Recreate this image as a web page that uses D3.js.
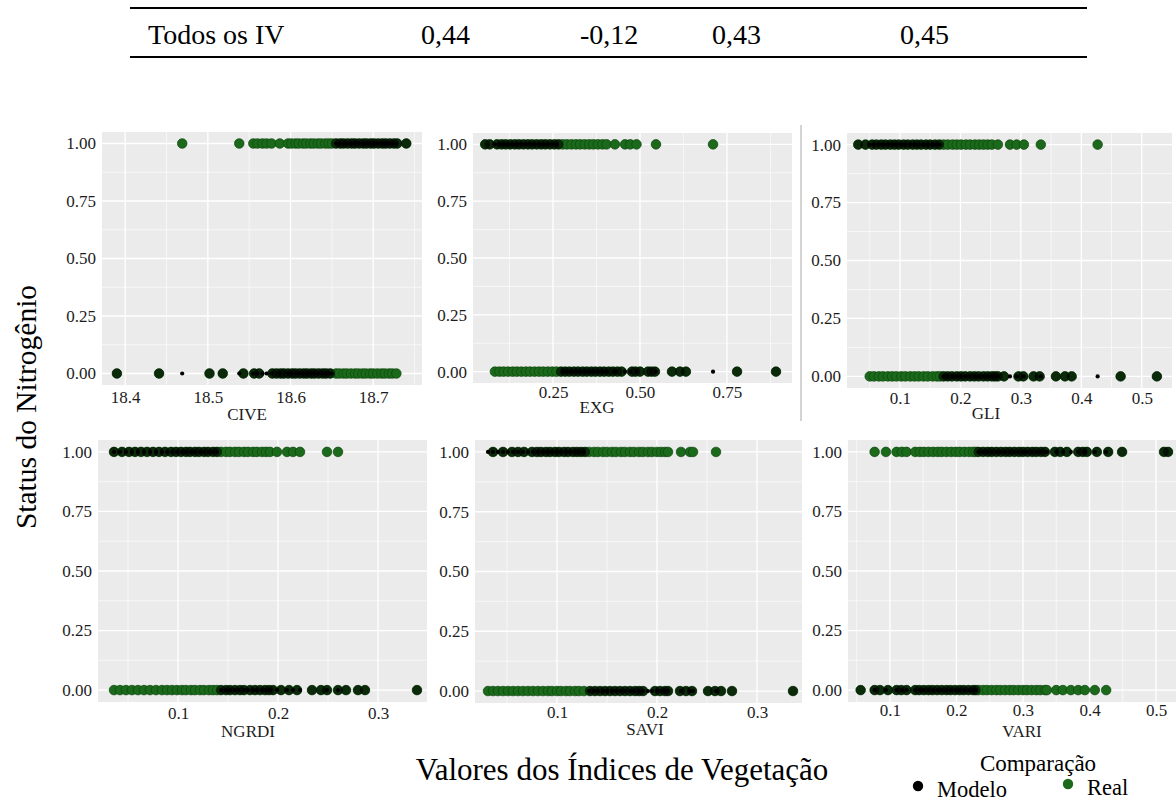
<!DOCTYPE html>
<html>
<head>
<meta charset="utf-8">
<script src="https://cdn.jsdelivr.net/npm/d3@7"></script>
<style>
  body { margin: 0; background: #ffffff; }
  svg text { font-family: "Liberation Serif", "Times New Roman", serif; }
</style>
</head>
<body>
<svg id="fig" width="1176" height="801"></svg>
<script>
// ---- Table row shown above the figure ----
const tableRow = ["Todos os IV", "0,44", "-0,12", "0,43", "0,45"];

// ---- Facet names, y ticks, x ticks ----
const indexNames = ["CIVE", "EXG", "GLI", "NGRDI", "SAVI", "VARI"];
const statusTicks = [0, 0.25, 0.5, 0.75, 1];
const civeTicks = [18.4, 18.5, 18.6, 18.7];
const exgTicks = [0.25, 0.5, 0.75];
const gliTicks = [0.1, 0.2, 0.3, 0.4, 0.5];
const ngrdiTicks = [0.1, 0.2, 0.3];
const saviTicks = [0.1, 0.2, 0.3];
const variTicks = [0.1, 0.2, 0.3, 0.4, 0.5];

// ---- Observed nitrogen status (1 / 0) by index value ----
const civeReal1 = [18.469, 18.538, 18.555, 18.560, 18.566, 18.571, 18.577, 18.587,
  18.597, 18.601, 18.606, 18.610, 18.615, 18.619, 18.624, 18.628, 18.633, 18.637, 18.642, 18.646, 18.650,
  18.655, 18.660, 18.664, 18.669, 18.674, 18.678, 18.683, 18.688, 18.692, 18.697, 18.701, 18.706, 18.711,
  18.715, 18.720, 18.725, 18.729, 18.740];
const civeReal0 = [18.390, 18.441, 18.502, 18.518, 18.543, 18.556, 18.562,
  18.578, 18.583, 18.588, 18.592, 18.597, 18.602, 18.606, 18.611, 18.616, 18.620, 18.625, 18.629, 18.634,
  18.639, 18.643, 18.648, 18.655, 18.659, 18.664, 18.668, 18.673, 18.678, 18.682, 18.687, 18.691, 18.696,
  18.700, 18.705, 18.710, 18.714, 18.719, 18.723, 18.728];

const exgReal1 = [0.055, 0.068, 0.089, 0.102, 0.114, 0.127, 0.140, 0.152, 0.165, 0.178, 0.190, 0.203, 0.216,
  0.228, 0.241, 0.254, 0.266, 0.278, 0.290, 0.303, 0.316, 0.328, 0.341, 0.354, 0.366, 0.379, 0.392, 0.404,
  0.428, 0.457, 0.472, 0.490, 0.546, 0.710];
const exgReal0 = [0.083, 0.096, 0.108, 0.121, 0.134, 0.146, 0.159, 0.172, 0.184, 0.197, 0.210, 0.222, 0.235,
  0.248, 0.260, 0.273, 0.285, 0.297, 0.310, 0.322, 0.335, 0.347, 0.360, 0.372, 0.385, 0.397, 0.410, 0.422,
  0.435, 0.447, 0.477, 0.487, 0.500, 0.523, 0.533, 0.543, 0.592, 0.615, 0.632, 0.779, 0.891];

const gliReal1 = [0.031, 0.043, 0.054, 0.061, 0.069, 0.076, 0.084, 0.091, 0.098, 0.106, 0.113, 0.121, 0.128,
  0.135, 0.143, 0.150, 0.158, 0.165, 0.172, 0.179, 0.187, 0.194, 0.201, 0.209, 0.216, 0.224, 0.231, 0.238,
  0.245, 0.252, 0.262, 0.282, 0.293, 0.305, 0.333, 0.427];
const gliReal0 = [0.050, 0.057, 0.065, 0.072, 0.080, 0.087, 0.094, 0.102, 0.109, 0.117, 0.124, 0.131, 0.139,
  0.146, 0.154, 0.161, 0.166, 0.172, 0.179, 0.186, 0.194, 0.201, 0.208, 0.216, 0.223, 0.230, 0.238, 0.245,
  0.252, 0.257, 0.262, 0.272, 0.296, 0.304, 0.321, 0.331, 0.358, 0.373, 0.384, 0.465, 0.525];

const ngrdiReal1 = [0.036, 0.044, 0.051, 0.057, 0.063, 0.069, 0.075, 0.081, 0.087, 0.093, 0.098, 0.103, 0.108,
  0.112, 0.117, 0.121, 0.126, 0.130, 0.135, 0.139, 0.143, 0.148, 0.152, 0.157, 0.161, 0.166, 0.170, 0.175,
  0.179, 0.184, 0.188, 0.192, 0.199, 0.209, 0.215, 0.222, 0.249, 0.260];
const ngrdiReal0 = [0.036, 0.042, 0.048, 0.054, 0.060, 0.066, 0.072, 0.078, 0.084, 0.089, 0.094, 0.099, 0.104,
  0.108, 0.113, 0.117, 0.122, 0.126, 0.131, 0.135, 0.139, 0.143, 0.148, 0.152, 0.157, 0.162, 0.166, 0.172,
  0.177, 0.182, 0.187, 0.191, 0.195, 0.203, 0.211, 0.219, 0.234, 0.243, 0.249, 0.260, 0.268, 0.280, 0.287,
  0.339];

const saviReal1 = [0.036, 0.046, 0.055, 0.061, 0.067, 0.075, 0.080, 0.084, 0.089, 0.093, 0.098, 0.102, 0.107,
  0.111, 0.116, 0.120, 0.124, 0.128, 0.132, 0.137, 0.141, 0.146, 0.150, 0.155, 0.159, 0.164, 0.168, 0.173,
  0.177, 0.182, 0.186, 0.191, 0.195, 0.200, 0.204, 0.208, 0.211, 0.224, 0.233, 0.236, 0.259];
const saviReal0 = [0.031, 0.036, 0.041, 0.046, 0.051, 0.056, 0.061, 0.066, 0.071, 0.076, 0.081, 0.086, 0.091,
  0.095, 0.100, 0.104, 0.109, 0.113, 0.118, 0.122, 0.127, 0.133, 0.138, 0.143, 0.148, 0.153, 0.158, 0.163,
  0.168, 0.173, 0.178, 0.182, 0.186, 0.198, 0.203, 0.208, 0.211, 0.223, 0.229, 0.235, 0.251, 0.258, 0.264,
  0.275, 0.336];

const variReal1 = [0.077, 0.094, 0.110, 0.118, 0.125, 0.138, 0.145, 0.151, 0.158, 0.165, 0.172, 0.178, 0.185,
  0.192, 0.199, 0.205, 0.212, 0.219, 0.225, 0.229, 0.233, 0.240, 0.247, 0.253, 0.260, 0.267, 0.274, 0.280,
  0.287, 0.294, 0.300, 0.307, 0.314, 0.320, 0.327, 0.333, 0.348, 0.356, 0.366, 0.383, 0.390, 0.396, 0.411,
  0.428, 0.449, 0.512, 0.518];
const variReal0 = [0.056, 0.077, 0.085, 0.097, 0.110, 0.117, 0.125, 0.138, 0.144, 0.151, 0.158, 0.164, 0.171,
  0.178, 0.185, 0.191, 0.198, 0.205, 0.211, 0.218, 0.225, 0.229, 0.233, 0.240, 0.246, 0.253, 0.260, 0.266,
  0.273, 0.280, 0.286, 0.293, 0.300, 0.306, 0.313, 0.320, 0.326, 0.333, 0.336, 0.350, 0.360, 0.372, 0.383,
  0.393, 0.408, 0.425];

// ---- Fitted model: cut-off per index and the side that is classed as 1 ----
const modelCutoffs = [18.652, 0.270, 0.169, 0.141, 0.130, 0.231];
const modelPositiveAbove = [true, false, false, false, false, true];

const legendTitle = "Comparação";
const legendLabels = ["Modelo", "Real"];
const axisTitleX = "Valores dos Índices de Vegetação";
const axisTitleY = "Status do Nitrogênio";

// ---- Drawing ----
const svg = d3.select("#fig");
const realColor = "#1b6a1b";
const realEdge = "#0d450d";
const modelColor = "#000000";
const panelBg = "#ebebeb";
const textColor = "#1c1c1c";

const realSets = [[civeReal1, civeReal0], [exgReal1, exgReal0], [gliReal1, gliReal0],
  [ngrdiReal1, ngrdiReal0], [saviReal1, saviReal0], [variReal1, variReal0]];
const tickSets = [civeTicks, exgTicks, gliTicks, ngrdiTicks, saviTicks, variTicks];
const tickFormats = [d3.format(".1f"), d3.format(".2f"), d3.format(".1f"),
  d3.format(".1f"), d3.format(".1f"), d3.format(".1f")];

// panel boxes, x ranges and label placement
const layout = [
  { l: 102, t: 132, r: 422, b: 385, xd: [18.372, 18.759], pad: 6, tx: 247, ty: 420 },
  { l: 473, t: 133, r: 792, b: 383, xd: [0.020, 0.937], pad: 3, tx: 597, ty: 413 },
  { l: 847, t: 133, r: 1172, b: 388, xd: [0.0124, 0.550], pad: 4, tx: 986, ty: 419 },
  { l: 98, t: 440, r: 427, b: 702, xd: [0.020, 0.349], pad: 5, tx: 248, ty: 737 },
  { l: 475, t: 440, r: 802, b: 703, xd: [0.018, 0.345], pad: 3, tx: 645, ty: 735 },
  { l: 848, t: 440, r: 1176, b: 702, xd: [0.037, 0.530], pad: 2, tx: 1022, ty: 737 }
];

// table rules and row
svg.append("line").attr("x1", 130).attr("x2", 1087).attr("y1", 8).attr("y2", 8)
  .attr("stroke", "#000").attr("stroke-width", 2);
svg.append("line").attr("x1", 130).attr("x2", 1087).attr("y1", 57).attr("y2", 57)
  .attr("stroke", "#000").attr("stroke-width", 2);
const tableX = [148, 421, 580, 712, 900];
tableRow.forEach((t, i) => {
  svg.append("text").attr("x", tableX[i]).attr("y", 44).attr("font-size", 28)
    .attr("fill", "#000").text(t);
});

indexNames.forEach((name, p) => {
  const L = layout[p];
  const g = svg.append("g");
  const x = d3.scaleLinear().domain(L.xd).range([L.l, L.r]);
  const y = d3.scaleLinear().domain([-0.05, 1.05]).range([L.b, L.t]);

  g.append("rect").attr("x", L.l).attr("y", L.t).attr("width", L.r - L.l).attr("height", L.b - L.t)
    .attr("fill", panelBg);

  // minor grid at midpoints between major ticks
  const ticks = tickSets[p];
  const step = ticks[1] - ticks[0];
  const minorX = d3.range(ticks.length + 1).map(i => ticks[0] - step / 2 + i * step)
    .filter(v => v > L.xd[0] && v < L.xd[1]);
  const minorY = [0.125, 0.375, 0.625, 0.875];
  g.selectAll(".mx").data(minorX).join("line")
    .attr("x1", d => x(d)).attr("x2", d => x(d)).attr("y1", L.t).attr("y2", L.b)
    .attr("stroke", "#fff").attr("stroke-width", 0.6);
  g.selectAll(".my").data(minorY).join("line")
    .attr("x1", L.l).attr("x2", L.r).attr("y1", d => y(d)).attr("y2", d => y(d))
    .attr("stroke", "#fff").attr("stroke-width", 0.6);
  g.selectAll(".gx").data(ticks).join("line")
    .attr("x1", d => x(d)).attr("x2", d => x(d)).attr("y1", L.t).attr("y2", L.b)
    .attr("stroke", "#fff").attr("stroke-width", 1.3);
  g.selectAll(".gy").data(statusTicks).join("line")
    .attr("x1", L.l).attr("x2", L.r).attr("y1", d => y(d)).attr("y2", d => y(d))
    .attr("stroke", "#fff").attr("stroke-width", 1.3);

  // observations and model predictions
  const [r1, r0] = realSets[p];
  const cut = modelCutoffs[p];
  const above = modelPositiveAbove[p];
  const obs = r1.map(v => ({ v, real: 1 })).concat(r0.map(v => ({ v, real: 0 })));
  const pred = obs.map(o => {
    const level = (above ? o.v > cut : o.v < cut) ? 1 : 0;
    return { v: o.v, level, agree: level === o.real };
  });

  g.selectAll(".real").data(obs).join("circle")
    .attr("cx", d => x(d.v)).attr("cy", d => y(d.real)).attr("r", 4.8)
    .attr("fill", realColor).attr("stroke", realEdge).attr("stroke-width", 0.7);
  g.selectAll(".pa").data(pred.filter(d => d.agree)).join("circle")
    .attr("cx", d => x(d.v)).attr("cy", d => y(d.level)).attr("r", 4.9)
    .attr("fill", modelColor).attr("fill-opacity", 0.6);
  g.selectAll(".pd").data(pred.filter(d => !d.agree)).join("circle")
    .attr("cx", d => x(d.v)).attr("cy", d => y(d.level)).attr("r", 2.1)
    .attr("fill", modelColor);

  // axes
  const ya = g.append("g").attr("transform", `translate(${L.l},0)`)
    .call(d3.axisLeft(y).tickValues(statusTicks).tickFormat(d3.format(".2f")).tickSize(0).tickPadding(6));
  ya.select(".domain").remove();
  ya.selectAll("text").attr("font-size", 17).attr("fill", textColor)
    .attr("font-family", "'Liberation Serif', serif");

  const xa = g.append("g").attr("transform", `translate(0,${L.b})`)
    .call(d3.axisBottom(x).tickValues(ticks).tickFormat(tickFormats[p]).tickSize(0).tickPadding(L.pad));
  xa.select(".domain").remove();
  xa.selectAll("text").attr("font-size", 17).attr("fill", textColor)
    .attr("font-family", "'Liberation Serif', serif");

  g.append("text").attr("x", L.tx).attr("y", L.ty).attr("text-anchor", "middle")
    .attr("font-size", 17).attr("fill", textColor).text(name);
});

// thin separator between the first-row panels
svg.append("line").attr("x1", 801).attr("x2", 801).attr("y1", 125).attr("y2", 421)
  .attr("stroke", "#a8a8a8").attr("stroke-width", 1);

// shared axis titles
svg.append("text").attr("transform", "translate(36,407) rotate(-90)").attr("text-anchor", "middle")
  .attr("font-size", 29.5).attr("fill", "#000").text(axisTitleY);
svg.append("text").attr("x", 622).attr("y", 780).attr("text-anchor", "middle")
  .attr("font-size", 31).attr("fill", "#000").text(axisTitleX);

// legend
svg.append("text").attr("x", 1038).attr("y", 771).attr("text-anchor", "middle")
  .attr("font-size", 23).attr("fill", "#000").text(legendTitle);
const legendColors = [modelColor, realColor];
const legendX = [918, 1068];
legendLabels.forEach((lab, i) => {
  svg.append("circle").attr("cx", legendX[i]).attr("cy", 786 - i * 2).attr("r", 5.2)
    .attr("fill", legendColors[i]);
  svg.append("text").attr("x", legendX[i] + 19).attr("y", 797 - i * 2)
    .attr("font-size", 22.5).attr("fill", "#000").text(lab);
});
</script>
</body>
</html>
